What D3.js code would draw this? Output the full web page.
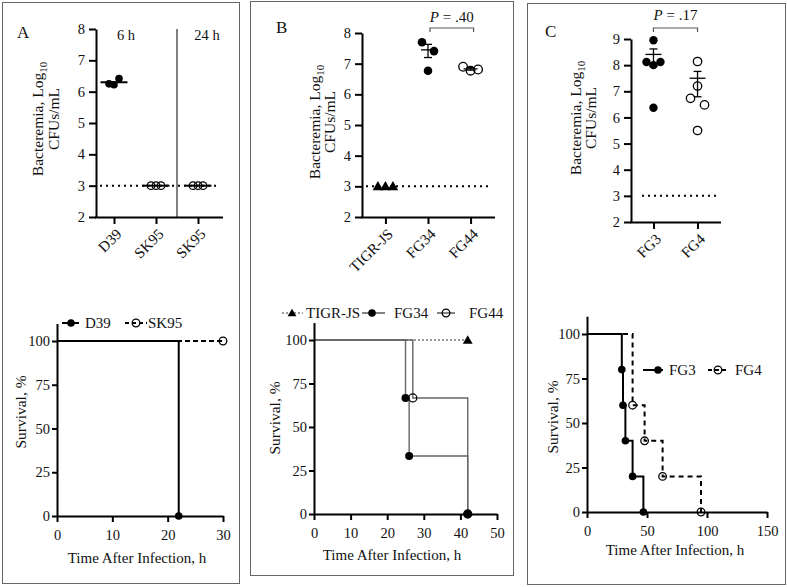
<!DOCTYPE html>
<html><head><meta charset="utf-8">
<script src="https://cdn.jsdelivr.net/npm/d3@7"></script>
<style>body{margin:0;background:#fff}svg{display:block}
svg text{font-family:'Liberation Serif','DejaVu Serif',serif !important;}</style>
</head><body><svg id="chart" width="787" height="587"></svg>
<script>
// ---------------- DATA ----------------
// Panel A – bacteremia
const aCategories = ["D39", "SK95", "SK95"];
const aPeriodOfCategory = ["6 h", "6 h", "24 h"];
const aPeriods = ["6 h", "24 h"];
const aD39 = [6.25, 6.22, 6.42];
const aSK95_6h = [3, 3, 3];
const aSK95_24h = [3, 3, 3];
const aMeans = [6.30, 3, 3];
const abTicksY = [2, 3, 4, 5, 6, 7, 8];
const detectionLimit = 3;
// Panel B – bacteremia
const bCategories = ["TIGR-JS", "FG34", "FG44"];
const bTIGR = [3, 3, 3];
const bFG34 = [7.70, 7.41, 6.77];
const bFG44 = [6.90, 6.77, 6.81];
const bMeans = [null, 7.45, 6.83];
const bSemLow = [null, 7.20, 6.79];
const bSemHigh = [null, 7.63, 6.87];
const bPValue = ".40";
// Panel C – bacteremia
const cCategories = ["FG3", "FG4"];
const cFG3 = [8.95, 8.12, 8.00, 8.12, 6.37];
const cFG4 = [8.14, 7.20, 6.73, 6.48, 5.50];
const cMeans = [8.41, 7.50];
const cSemLow = [7.95, 6.79];
const cSemHigh = [8.62, 7.76];
const cTicksY = [2, 3, 4, 5, 6, 7, 8, 9];
const cPValue = ".17";
// Survival
const survTicksY = [0, 25, 50, 75, 100];
const aSurvTicksX = [0, 10, 20, 30];
const aD39Time = [0, 22], aD39Surv = [100, 0];
const aSK95Time = [0, 30], aSK95Surv = [100, 100];
const bSurvTicksX = [0, 10, 20, 30, 40, 50];
const bTIGRTime = [0, 42], bTIGRSurv = [100, 100];
const bFG34Time = [0, 25, 26, 42], bFG34Surv = [100, 66.7, 33.3, 0];
const bFG44Time = [0, 27, 42], bFG44Surv = [100, 66.7, 0];
const cSurvTicksX = [0, 50, 100, 150];
const cFG3Time = [0, 29, 30, 32, 38, 47], cFG3Surv = [100, 80, 60, 40, 20, 0];
const cFG4Time = [0, 38, 48, 63, 95], cFG4Surv = [100, 60, 40, 20, 0];

// ---------------- DRAWING ----------------
const FONT = "'Liberation Serif', serif";
const INK = "#111";
const svg = d3.select("#chart");
svg.append("rect").attr("width", 787).attr("height", 587).attr("fill", "#fff");

// panel frames
[[2.5, 2.5, 237, 581], [250.5, 1.5, 263, 574], [527.5, 3.5, 258, 581]].forEach(b => {
  svg.append("rect").attr("x", b[0]).attr("y", b[1]).attr("width", b[2]).attr("height", b[3])
    .attr("fill", "none").attr("stroke", "#666").attr("stroke-width", 1);
});

function txt(g, x, y, s, size, anchor) {
  return g.append("text").attr("x", x).attr("y", y).text(s)
    .style("font-family", FONT).style("font-size", size + "px").attr("fill", INK)
    .attr("text-anchor", anchor || "start");
}

function styleAxis(g, fs, w) {
  g.attr("font-family", null).attr("font-size", null);
  g.selectAll(".tick text").attr("fill", INK).style("font-family", FONT).style("font-size", fs + "px");
  g.select(".domain").attr("stroke", "#000").attr("stroke-width", w);
  g.selectAll(".tick line").attr("stroke", "#000").attr("stroke-width", w);
}

function symbol(g, type, x, y, r, color) {
  color = color || "#000";
  if (type === "triangle") {
    g.append("path").attr("d", d3.symbol().type(d3.symbolTriangle).size(r * r * 2.6)())
      .attr("transform", `translate(${x},${y + 0.8})`).attr("fill", color);
  } else if (type === "open") {
    g.append("circle").attr("cx", x).attr("cy", y).attr("r", r)
      .attr("fill", "none").attr("stroke", color).attr("stroke-width", 1.3);
  } else {
    g.append("circle").attr("cx", x).attr("cy", y).attr("r", r).attr("fill", color);
  }
}

// Column-scatter offsets: points close in y are spread horizontally, centered
function swarm(vals, y, h, s, pairS) {
  const idx = vals.map((v, i) => i).sort((a, b) => y(vals[a]) - y(vals[b]));
  const clusters = [];
  let cur = [idx[0]];
  for (let k = 1; k < idx.length; k++) {
    if (Math.abs(y(vals[idx[k]]) - y(vals[idx[k - 1]])) < h) cur.push(idx[k]);
    else { clusters.push(cur); cur = [idx[k]]; }
  }
  clusters.push(cur);
  const off = vals.map(() => 0);
  clusters.forEach(c => {
    c.sort((a, b) => a - b);
    const step = c.length === 2 ? pairS : s;
    c.forEach((i, j) => off[i] = (j - (c.length - 1) / 2) * step);
  });
  return off;
}

function yTitleBact(g, cx, cy, gap) {
  const t1 = g.append("text").attr("transform", `translate(${cx},${cy}) rotate(-90)`)
    .attr("text-anchor", "middle").attr("dy", "0.35em")
    .style("font-family", FONT).style("font-size", "15.5px").attr("fill", INK);
  t1.append("tspan").text("Bacteremia, Log");
  t1.append("tspan").text("10").style("font-size", "11px").attr("dy", "0.35em");
  g.append("text").attr("transform", `translate(${cx + gap},${cy}) rotate(-90)`)
    .attr("text-anchor", "middle").attr("dy", "0.35em")
    .style("font-family", FONT).style("font-size", "15.5px").attr("fill", INK).text("CFUs/mL");
}

function topPanel(c) {
  const g = svg.append("g");
  const y = d3.scaleLinear().domain(c.yDomain).range(c.yRange);
  const x = d3.scalePoint().domain(c.keys).range(c.xRange).padding(c.pad);
  g.append("line").attr("x1", c.limitX[0]).attr("x2", c.limitX[1])
    .attr("y1", y(detectionLimit)).attr("y2", y(detectionLimit))
    .attr("stroke", "#000").attr("stroke-width", 2).attr("stroke-dasharray", "2,4");
  if (c.extra) c.extra(g, x, y);
  const gy = g.append("g").attr("transform", `translate(${c.axisX},0)`);
  gy.call(d3.axisLeft(y).tickValues(c.yTicks).tickSize(7).tickPadding(4).tickSizeOuter(0).tickFormat(d3.format("d")));
  styleAxis(gy, 14.5, 2);
  const gx = g.append("g").attr("transform", `translate(0,${c.yRange[0]})`);
  gx.call(d3.axisBottom(x).tickSize(7).tickSizeOuter(0).tickFormat((d, i) => c.labels[i]));
  styleAxis(gx, 15, 2);
  gx.select(".domain").remove();
  gx.append("line").attr("x1", c.axisX - 1).attr("x2", c.axisEnd).attr("y1", 0.5).attr("y2", 0.5)
    .attr("stroke", "#000").attr("stroke-width", 2);
  gx.selectAll(".tick text").attr("y", 0).attr("dy", null).attr("text-anchor", "end")
    .attr("transform", "translate(8,18) rotate(-45)");
  c.groups.forEach((vals, gi) => {
    const off = swarm(vals, y, c.clusterH, c.spread, c.pairSpread || c.spread);
    const cx = x(c.keys[gi]);
    vals.forEach((v, i) => symbol(g, c.symbols[gi], cx + off[i], y(v), c.r));
  });
  c.means.forEach((m, gi) => {
    if (m == null) return;
    const cx = x(c.keys[gi]);
    g.append("line").attr("x1", cx - c.meanW / 2).attr("x2", cx + c.meanW / 2)
      .attr("y1", y(m)).attr("y2", y(m)).attr("stroke", "#000").attr("stroke-width", c.meanSW);
    if (c.semLow && c.semLow[gi] != null) {
      g.append("line").attr("x1", cx).attr("x2", cx).attr("y1", y(c.semLow[gi])).attr("y2", y(c.semHigh[gi]))
        .attr("stroke", "#000").attr("stroke-width", 1.3);
      [c.semLow[gi], c.semHigh[gi]].forEach(v => {
        g.append("line").attr("x1", cx - c.capW / 2).attr("x2", cx + c.capW / 2)
          .attr("y1", y(v)).attr("y2", y(v)).attr("stroke", "#000").attr("stroke-width", 1.3);
      });
    }
  });
  if (c.p) {
    const x1 = x(c.keys[c.p.a]) + c.p.dx1, x2 = x(c.keys[c.p.b]) + c.p.dx2;
    g.append("path").attr("d", `M${x1},${c.p.y + 4}V${c.p.y}H${x2}V${c.p.y + 4}`)
      .attr("fill", "none").attr("stroke", "#555").attr("stroke-width", 1.2);
    const t = g.append("text").attr("x", (x1 + x2) / 2).attr("y", c.p.ty).attr("text-anchor", "middle")
      .style("font-family", FONT).style("font-size", "15px").attr("fill", INK);
    t.append("tspan").text("P").style("font-style", "italic");
    t.append("tspan").text(" = " + c.p.text);
  }
  return { x, y, g };
}

// ---- Panel A top
topPanel({
  keys: aCategories.map((d, i) => d + "|" + aPeriodOfCategory[i]), labels: aCategories,
  groups: [aD39, aSK95_6h, aSK95_24h], symbols: ["filled", "open", "open"],
  means: aMeans, yDomain: [2, 8], yRange: [217, 29], yTicks: abTicksY,
  xRange: [93, 219], pad: 0.5, axisX: 96, axisEnd: 223, limitX: [100, 218],
  spread: 5, clusterH: 14, r: 3.8, meanW: 27, meanSW: 2,
  extra: (g, x, y) => {
    const k = aCategories.map((d, i) => d + "|" + aPeriodOfCategory[i]);
    const sep = (x(k[1]) + x(k[2])) / 2;
    g.append("line").attr("x1", sep).attr("x2", sep).attr("y1", y(8)).attr("y2", y(2))
      .attr("stroke", "#000").attr("stroke-width", 1);
    txt(g, x(k[0]) + 12, 40, aPeriods[0], 14.5, "middle");
    txt(g, x(k[2]) + 9, 40, aPeriods[1], 14.5, "middle");
  }
});
txt(svg, 17, 38, "A", 17);
yTitleBact(svg, 38, 119, 16);

// ---- Panel B top
topPanel({
  keys: bCategories, labels: bCategories,
  groups: [bTIGR, bFG34, bFG44], symbols: ["triangle", "filled", "open"],
  means: bMeans, semLow: bSemLow, semHigh: bSemHigh,
  yDomain: [2, 8], yRange: [217, 33], yTicks: abTicksY,
  xRange: [362, 494], pad: 0.55, axisX: 362, axisEnd: 495, limitX: [366, 490],
  spread: 7.5, pairSpread: 12, clusterH: 14, r: 4.3, meanW: 14, meanSW: 1.3, capW: 8,
  p: { a: 1, b: 2, dx1: 2, dx2: 3, y: 28, ty: 22, text: bPValue }
});
txt(svg, 276, 33, "B", 17);
yTitleBact(svg, 315, 122, 15);

// ---- Panel C top
topPanel({
  keys: cCategories, labels: cCategories,
  groups: [cFG3, cFG4], symbols: ["filled", "open"],
  means: cMeans, semLow: cSemLow, semHigh: cSemHigh,
  yDomain: [2, 9], yRange: [222, 39], yTicks: cTicksY,
  xRange: [631, 720], pad: 0.51, axisX: 631, axisEnd: 721, limitX: [642, 718],
  spread: 7, pairSpread: 14, clusterH: 11, r: 4.2, meanW: 16, meanSW: 1.3, capW: 8,
  p: { a: 0, b: 1, dx1: 0, dx2: 0, y: 28, ty: 20, text: cPValue }
});
txt(svg, 545, 37, "C", 17);
yTitleBact(svg, 576, 118, 15);

// ---------------- Survival panels ----------------
function survPanel(c) {
  const g = svg.append("g");
  const x = d3.scaleLinear().domain(c.xDomain).range(c.xRange);
  const y = d3.scaleLinear().domain([0, 110]).range(c.yRange);
  const line = d3.line().x(d => x(d[0])).y(d => y(d[1])).curve(d3.curveStepAfter);
  c.series.forEach(s => {
    const pts = s.time.map((t, i) => [t, s.surv[i]]);
    g.append("path").attr("d", line(pts)).attr("fill", "none").attr("stroke", s.color)
      .attr("stroke-width", s.width).attr("stroke-dasharray", s.dash || null);
  });
  const gy = g.append("g").attr("transform", `translate(${c.xRange[0]},0)`);
  gy.call(d3.axisLeft(y).tickValues(survTicksY).tickSize(5).tickPadding(2).tickSizeOuter(0));
  styleAxis(gy, 14.5, 2);
  const gx = g.append("g").attr("transform", `translate(0,${c.yRange[0]})`);
  gx.call(d3.axisBottom(x).tickValues(c.xTicks).tickSize(6).tickPadding(8).tickSizeOuter(0));
  styleAxis(gx, 14.5, 2);
  c.series.forEach(s => {
    s.time.forEach((t, i) => { if (i > 0) symbol(g, s.symbol, x(t), y(s.surv[i]), s.r || 3.8, s.symColor); });
  });
  txt(g, c.title[0], c.title[1], "Time After Infection, h", 15, "middle");
  g.append("text").attr("transform", `translate(${c.ytitle[0]},${c.ytitle[1]}) rotate(-90)`)
    .attr("text-anchor", "middle").attr("dy", "0.35em").style("font-family", FONT)
    .style("font-size", "15.5px").attr("fill", INK).text("Survival, %");
  c.legend.forEach(L => {
    g.append("line").attr("x1", L.x1).attr("x2", L.x2).attr("y1", L.y).attr("y2", L.y)
      .attr("stroke", L.color).attr("stroke-width", L.width).attr("stroke-dasharray", L.dash || null);
    symbol(g, L.symbol, L.sx, L.y, L.r || 3.8, L.symColor);
    txt(g, L.tx, L.y + 5, L.label, 15);
  });
}

survPanel({
  xDomain: [0, 30], xRange: [57, 223], yRange: [516, 323.5], xTicks: aSurvTicksX,
  series: [
    { time: aSK95Time, surv: aSK95Surv, color: "#000", width: 2, dash: "5,3", symbol: "open" },
    { time: aD39Time, surv: aD39Surv, color: "#000", width: 2, symbol: "filled" }
  ],
  title: [137, 563], ytitle: [21, 412],
  legend: [
    { x1: 62, x2: 79, y: 323, color: "#000", width: 2, symbol: "filled", sx: 71, tx: 85, label: "D39" },
    { x1: 125, x2: 147, y: 323, color: "#000", width: 2, dash: "4,3", symbol: "open", sx: 136, tx: 148, label: "SK95" }
  ]
});

survPanel({
  xDomain: [0, 50], xRange: [314, 497], yRange: [514, 322.6], xTicks: bSurvTicksX,
  series: [
    { time: bTIGRTime, surv: bTIGRSurv, color: "#333", width: 1, dash: "2,2", symbol: "triangle", r: 4 },
    { time: bFG34Time, surv: bFG34Surv, color: "#666", width: 1.4, symbol: "filled", symColor: "#000", r: 4 },
    { time: bFG44Time, surv: bFG44Surv, color: "#666", width: 1.4, symbol: "open", symColor: "#000", r: 4 }
  ],
  title: [392, 560], ytitle: [275, 418],
  legend: [
    { x1: 282, x2: 303, y: 313, color: "#333", width: 1, dash: "2,2", symbol: "triangle", sx: 292, r: 3.6, tx: 306, label: "TIGR-JS" },
    { x1: 362, x2: 385, y: 313, color: "#333", width: 1.2, symbol: "filled", sx: 372, tx: 394, label: "FG34" },
    { x1: 437, x2: 455, y: 313, color: "#333", width: 1.2, symbol: "open", sx: 446, tx: 469, label: "FG44" }
  ]
});

survPanel({
  xDomain: [0, 150], xRange: [587, 767], yRange: [512, 316.2], xTicks: cSurvTicksX,
  series: [
    { time: cFG4Time, surv: cFG4Surv, color: "#000", width: 2, dash: "5,4", symbol: "open" },
    { time: cFG3Time, surv: cFG3Surv, color: "#000", width: 2, symbol: "filled" }
  ],
  title: [675, 555], ytitle: [553, 417],
  legend: [
    { x1: 643, x2: 663, y: 370, color: "#000", width: 2, symbol: "filled", sx: 658, tx: 669, label: "FG3" },
    { x1: 708, x2: 727, y: 370, color: "#000", width: 2, dash: "4,3", symbol: "open", sx: 718, tx: 735, label: "FG4" }
  ]
});
</script></body></html>
